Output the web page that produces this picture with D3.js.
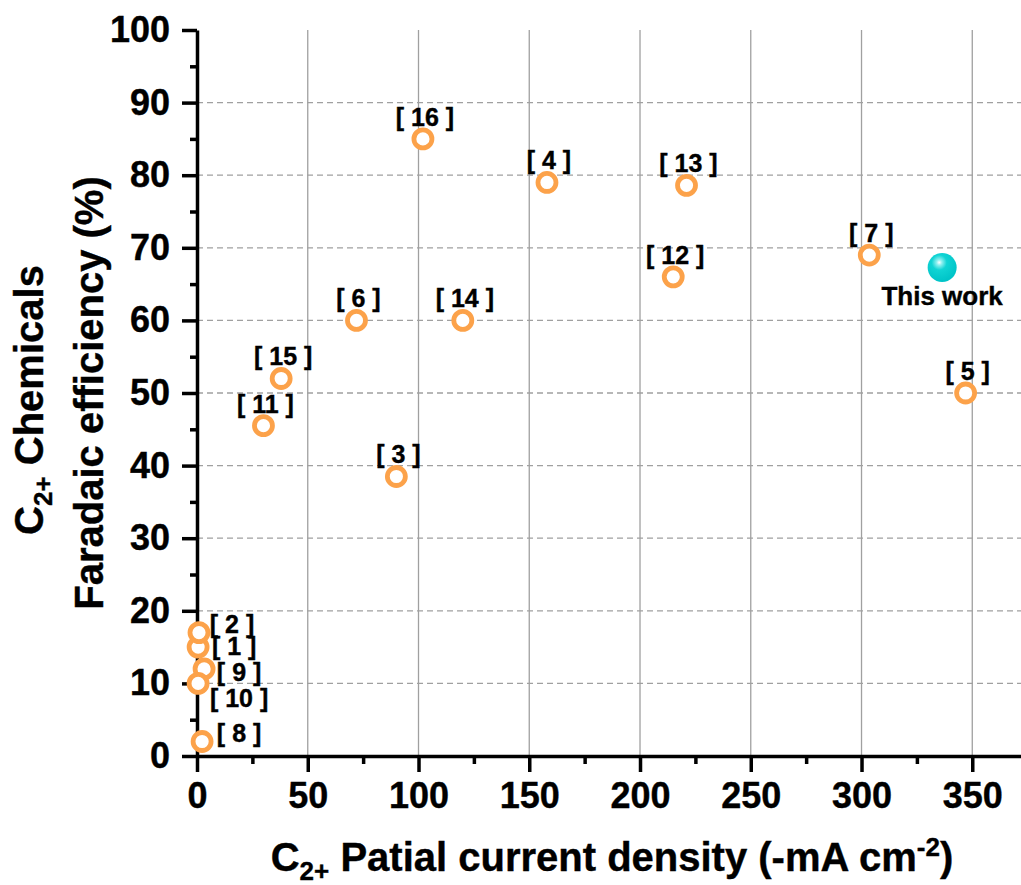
<!DOCTYPE html>
<html>
<head>
<meta charset="utf-8">
<script src="https://cdn.jsdelivr.net/npm/d3@7"></script>
<style>
  html, body { margin: 0; padding: 0; background: #fff; }
  svg { display: block; }
  text { font-family: "Liberation Sans", Arial, sans-serif; font-weight: bold; fill: #000; }
</style>
</head>
<body>
<svg id="chart" width="1021" height="885"></svg>
<script>
// ---- data ----
const refLabels = ["1","2","3","4","5","6","7","8","9","10","11","12","13","14","15","16"];
const currentDensity = [0.5, 0.9, 90, 158, 347, 72, 303.5, 2.3, 3.2, 0.5, 30, 215, 221, 120, 38, 102];
const faradaicEff   = [15, 17, 38.5, 79, 50, 60, 69, 2, 12, 10, 45.5, 66, 78.6, 60, 52, 85];
const thisWorkX = [336.4];
const thisWorkY = [67.3];
const thisWorkLabel = ["This work"];
const xTicks = [0, 50, 100, 150, 200, 250, 300, 350];
const yTicks = [0, 10, 20, 30, 40, 50, 60, 70, 80, 90, 100];

// ---- layout (label offsets in px, not data) ----
const labelOffsets = {
  "1": [36, 8], "2": [33, 0], "9": [35, 12], "10": [41, 24], "8": [37, 1]
};

const svg = d3.select("#chart");
const x = d3.scaleLinear().domain([0, 372]).range([197, 1021]);
const y = d3.scaleLinear().domain([0, 100]).range([756, 30]);

// grid
const grid = svg.append("g");
grid.selectAll("line.v").data(xTicks.filter(d => d > 0)).enter().append("line")
  .attr("x1", d => x(d)).attr("x2", d => x(d))
  .attr("y1", y(100)).attr("y2", y(0))
  .attr("stroke", "#a0a0a0").attr("stroke-width", 1.3);
grid.selectAll("line.h").data(yTicks.filter(d => d > 0 && d < 100)).enter().append("line")
  .attr("x1", x(0)).attr("x2", 1021)
  .attr("y1", d => y(d)).attr("y2", d => y(d))
  .attr("stroke", "#a0a0a0").attr("stroke-width", 1.3)
  .attr("stroke-dasharray", "6,4");

// axes
const tickFont = 36;
const xMinor = d3.range(25, 372, 50);
const yMinor = d3.range(5, 100, 10);

function styleText(sel, size) {
  sel.attr("font-size", size).attr("font-family", '"Liberation Sans", Arial, sans-serif')
    .attr("font-weight", "bold").attr("fill", "#000")
    .attr("stroke", "#000").attr("stroke-width", 0.4);
}

const xAxisG = svg.append("g").attr("transform", `translate(0,${y(0)})`);
xAxisG.call(d3.axisBottom(x).tickValues(xTicks).tickSize(16).tickSizeOuter(0).tickPadding(10));
xAxisG.append("g").call(d3.axisBottom(x).tickValues(xMinor).tickSize(8).tickFormat(""))
  .select(".domain").remove();
xAxisG.selectAll("path.domain").attr("stroke", "#000").attr("stroke-width", 3.5);
xAxisG.selectAll(".tick line").attr("stroke", "#000").attr("stroke-width", 3.5);
styleText(xAxisG.selectAll(".tick text"), tickFont);

const yAxisG = svg.append("g").attr("transform", `translate(${x(0)},0)`);
yAxisG.call(d3.axisLeft(y).tickValues(yTicks).tickSize(15).tickSizeOuter(0).tickPadding(12));
yAxisG.append("g").call(d3.axisLeft(y).tickValues(yMinor).tickSize(7).tickFormat(""))
  .select(".domain").remove();
yAxisG.selectAll("path.domain").attr("stroke", "#000").attr("stroke-width", 3.5);
yAxisG.selectAll(".tick line").attr("stroke", "#000").attr("stroke-width", 3.5);
styleText(yAxisG.selectAll(".tick text"), tickFont);

// points
const pts = refLabels.map((r, i) => ({ r, x: currentDensity[i], y: faradaicEff[i] }));
svg.append("g").selectAll("circle").data(pts).enter().append("circle")
  .attr("cx", d => x(d.x)).attr("cy", d => y(d.y)).attr("r", 9)
  .attr("fill", "#fff").attr("stroke", "#FCA24A").attr("stroke-width", 4.8);

styleText(svg.append("g").selectAll("text").data(pts).enter().append("text")
  .attr("x", d => x(d.x) + (labelOffsets[d.r] ? labelOffsets[d.r][0] : 2))
  .attr("y", d => y(d.y) + (labelOffsets[d.r] ? labelOffsets[d.r][1] : -13))
  .attr("text-anchor", "middle")
  .text(d => `[ ${d.r} ]`), 25);

// this work
const defs = svg.append("defs");
const grad = defs.append("radialGradient").attr("id", "ball")
  .attr("cx", "40%").attr("cy", "33%").attr("r", "65%").attr("fx", "40%").attr("fy", "33%");
grad.append("stop").attr("offset", "0%").attr("stop-color", "#ffffff");
grad.append("stop").attr("offset", "14%").attr("stop-color", "#8ff0f0");
grad.append("stop").attr("offset", "40%").attr("stop-color", "#10d4d4");
grad.append("stop").attr("offset", "100%").attr("stop-color", "#00c4c8");

const tw = thisWorkX.map((v, i) => ({ x: v, y: thisWorkY[i], t: thisWorkLabel[i] }));
svg.append("g").selectAll("circle").data(tw).enter().append("circle")
  .attr("cx", d => x(d.x)).attr("cy", d => y(d.y)).attr("r", 14.5)
  .attr("fill", "url(#ball)");
styleText(svg.append("g").selectAll("text").data(tw).enter().append("text")
  .attr("x", d => x(d.x)).attr("y", d => y(d.y) + 38)
  .attr("text-anchor", "middle")
  .text(d => d.t), 26);

// axis titles
const titleSize = 40;
const xt = svg.append("text").attr("x", 612).attr("y", 871).attr("text-anchor", "middle");
styleText(xt, titleSize);
xt.append("tspan").text("C");
xt.append("tspan").attr("font-size", 26).attr("dy", 9).text("2+");
xt.append("tspan").attr("dy", -9).text(" Patial current density (-mA cm");
xt.append("tspan").attr("font-size", 26).attr("dy", -15).text("-2");
xt.append("tspan").attr("dy", 15).text(")");

const yt1 = svg.append("text").attr("transform", "translate(43,400) rotate(-90)").attr("text-anchor", "middle");
styleText(yt1, titleSize);
yt1.append("tspan").text("C");
yt1.append("tspan").attr("font-size", 26).attr("dy", 9).text("2+");
yt1.append("tspan").attr("dy", -9).text(" Chemicals");

styleText(svg.append("text").attr("transform", "translate(103,393) rotate(-90)").attr("text-anchor", "middle")
  .text("Faradaic efficiency (%)"), titleSize);
</script>
</body>
</html>
